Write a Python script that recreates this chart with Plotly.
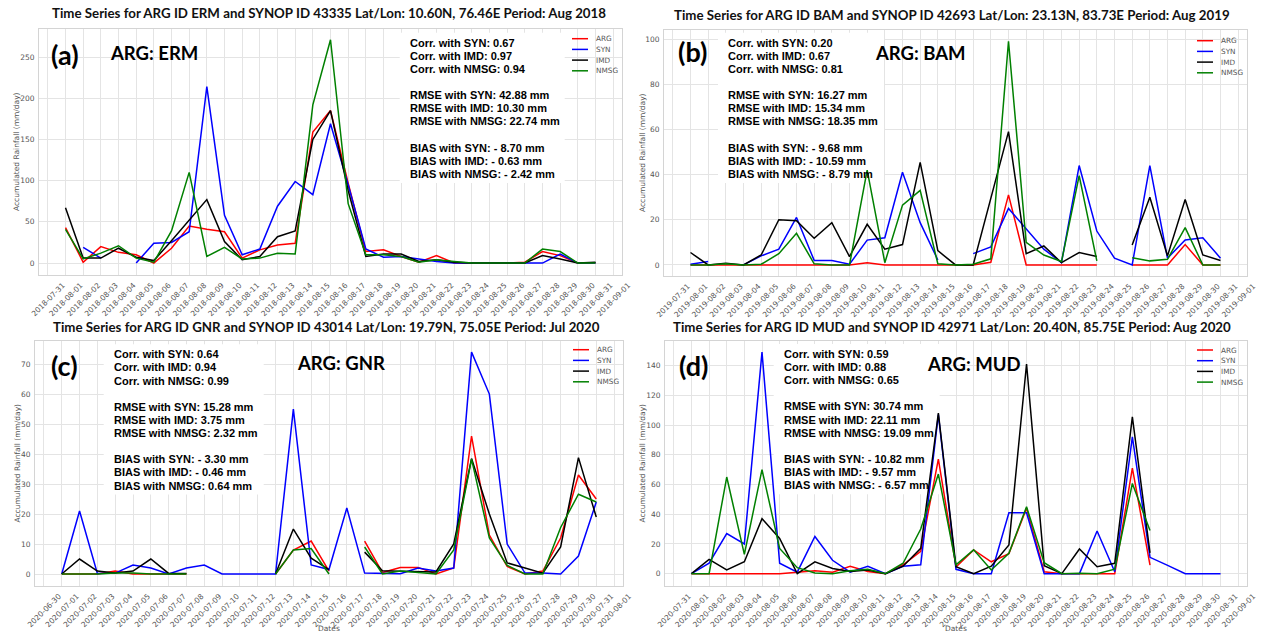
import plotly.graph_objects as go
import pandas as pd

W, H = 1263, 637

# ---------------- data ----------------
dates_a = pd.date_range('2018-08-01', '2018-08-31').strftime('%Y-%m-%d').tolist()
dates_b = pd.date_range('2019-08-01', '2019-08-31').strftime('%Y-%m-%d').tolist()
dates_c = pd.date_range('2020-07-01', '2020-07-31').strftime('%Y-%m-%d').tolist()
dates_d = pd.date_range('2020-08-01', '2020-08-31').strftime('%Y-%m-%d').tolist()

N = None
arg_a = [43, 1, 20, 13, 10, 0, 18, 45, 41, 38, 6, 16, 22, 24, 159, 185, 97, 14, 16, 8, 1, 9, 0, 0, 0, 0, 1, 14, 9, 0, 0]
syn_a = [N, 19, 6, N, 0, 24, 25, 38, 214, 58, 10, 17, 69, 99, 83, 169, 95, 17, 7, 8, 5, 2, 0, 0, 0, 0, 0, 0, 11, 0, 0]
imd_a = [67, 6, 6, 18, 7, 3, 27, 52, 77, 26, 4, 8, 32, 39, 150, 185, 88, 8, 11, 11, 2, 4, 1, 0, 0, 0, 0, 9, 5, 0, 1]
nmsg_a = [41, 5, 12, 21, 6, 1, 39, 110, 8, 19, 5, 6, 12, 11, 192, 271, 72, 10, 10, 8, 1, 4, 2, 0, 0, 0, 0, 17, 14, 0, 0]

arg_b = [0, 0, 0, 0, 0, 0, 0, 0, 0, 0, 1, 0, 0, 0, 0, 0, 0, 1.2, 31, 0, 0, 0, 0, 0, N, 0, 0, 0, 9, 0, 0]
syn_b = [0.3, 1.5, N, 0, 4, 7, 21, 2, 2, 0.3, 11, 12, 41, 18.7, 2.2, N, 5, 8, 25, 16, 7, 1, 44, 15, 3, 0, 44, 3, 11, 12, 3]
imd_b = [5.5, 0, 0.7, 0, 4.4, 20, 19.6, 11.8, 18.7, 3.7, 18, 7, 9, 45.4, 6.3, 0, 0, 29, 59, 5, 8.4, 1, 5.5, 3.7, N, 8.8, 30, 4, 29, 4.4, 2]
nmsg_b = [0, 0, 0.5, 0, 0.3, 5, 14, 0.5, 0, 0, 42, 1, 26.5, 33, 0.5, 0, 0.3, 2.7, 99, 10, 4.4, 1.5, 39.5, 1.8, N, 3.2, 1.8, 2.5, 16.5, 0, 0]

arg_c = [0, 0, 0, 1, 0, 0, 0, 0, N, N, N, N, 0, 8, 11, 1, N, 11, 0.5, 2.2, 2.2, 0, 2, 46, 13, 2.5, 0, 1, 12, 33, 25]
syn_c = [0, 21, 0.2, 0.3, 3, 2, 0, 2, 3, 0, 0, 0, 0, 55, 3, 1.5, 22, 0.3, 0.3, 0.1, 2, 1, 2, 74, 60, 10, 0.3, 0.3, 0, 6, 24]
imd_c = [0, 5, 1, 0.3, 1, 5, 0.2, 0.2, N, N, N, N, 0, 15, 5.3, 1.5, N, 7.3, 1.1, 0.9, 0.7, 0.7, 10, 38.5, 20, 3.7, 2, 0.3, 9, 38.8, 19]
nmsg_c = [0, 0, 0, 0.3, 0.3, 0, 0, 0, N, N, N, N, 0, 8, 8.5, 0, N, 9, 0, 1, 0.5, 0, 8, 38.3, 12, 2.9, 0, 0, 15.5, 26.6, 24]

arg_d = [0, 0, 0, 0, 0, 0, 1, 2, 1, 5, 1.5, 0, 6, 15, 77, 4.5, 16, 8, 13.5, 44, 1.3, 0, 0, 0, 0, 71, 5.8, N, N, N, N]
syn_d = [0, 7, 27, 20, 149, 7, 1, 25, 9, 1, 5, 0, 5, 6, 107, 2.9, 0, 0, 41, 41, 0, 0, 0, 28.7, 1.3, 92, 11, 5.6, 0, 0, 0]
imd_d = [0, 9.6, 2.5, 8, 37, 23.7, 0, 8, 3.5, 1.5, 2.5, 0, 5, 17, 108, 4.7, 0, 5, 19.3, 141, 5.4, 0, 16.6, 4.7, 7, 105.5, 14, N, N, N, N]
nmsg_d = [0, 0, 65, 13, 70, 17, 4, 0.5, 0, 2, 3, 0, 7, 30, 67, 6, 16, 2.5, 13.7, 45, 7.4, 0, 0.3, 0, 3, 60.7, 29, N, N, N, N]

series_names = ['ARG', 'SYN', 'IMD', 'NMSG']

titles = [
    'Time Series for ARG ID ERM and SYNOP ID 43335 Lat/Lon: 10.60N, 76.46E Period: Aug 2018',
    'Time Series for ARG ID BAM and SYNOP ID 42693 Lat/Lon: 23.13N, 83.73E Period: Aug 2019',
    'Time Series for ARG ID GNR and SYNOP ID 43014 Lat/Lon: 19.79N, 75.05E Period: Jul 2020',
    'Time Series for ARG ID MUD and SYNOP ID 42971 Lat/Lon: 20.40N, 85.75E Period: Aug 2020',
]
panel_tags = ['(a)', '(b)', '(c)', '(d)']
station_tags = ['ARG: ERM', 'ARG: BAM', 'ARG: GNR', 'ARG: MUD']
stats = [
    ['Corr. with SYN: 0.67', 'Corr. with IMD: 0.97', 'Corr. with NMSG: 0.94',
     'RMSE with SYN: 42.88 mm', 'RMSE with IMD: 10.30 mm', 'RMSE with NMSG: 22.74 mm',
     'BIAS with SYN: - 8.70 mm', 'BIAS with IMD: - 0.63 mm', 'BIAS with NMSG: - 2.42 mm'],
    ['Corr. with SYN: 0.20', 'Corr. with IMD: 0.67', 'Corr. with NMSG: 0.81',
     'RMSE with SYN: 16.27 mm', 'RMSE with IMD: 15.34 mm', 'RMSE with NMSG: 18.35 mm',
     'BIAS with SYN: - 9.68 mm', 'BIAS with IMD: - 10.59 mm', 'BIAS with NMSG: - 8.79 mm'],
    ['Corr. with SYN: 0.64', 'Corr. with IMD: 0.94', 'Corr. with NMSG: 0.99',
     'RMSE with SYN: 15.28 mm', 'RMSE with IMD: 3.75 mm', 'RMSE with NMSG: 2.32 mm',
     'BIAS with SYN: - 3.30 mm', 'BIAS with IMD: - 0.46 mm', 'BIAS with NMSG: 0.64 mm'],
    ['Corr. with SYN: 0.59', 'Corr. with IMD: 0.88', 'Corr. with NMSG: 0.65',
     'RMSE with SYN: 30.74 mm', 'RMSE with IMD: 22.11 mm', 'RMSE with NMSG: 19.09 mm',
     'BIAS with SYN: - 10.82 mm', 'BIAS with IMD: - 9.57 mm', 'BIAS with NMSG: - 6.57 mm'],
]
panel_dates = [dates_a, dates_b, dates_c, dates_d]
panel_series = [
    [arg_a, syn_a, imd_a, nmsg_a],
    [arg_b, syn_b, imd_b, nmsg_b],
    [arg_c, syn_c, imd_c, nmsg_c],
    [arg_d, syn_d, imd_d, nmsg_d],
]

# ---------------- style / layout ----------------
colors = ['#ff0000', '#0000ff', '#000000', '#008000']
# plot areas in pixels: left, right, top, bottom
boxes = [(39, 622, 29, 275), (664, 1247, 30, 276), (35, 623, 341, 586), (665, 1247, 341, 586)]
yranges = [(-14.5, 284), (-4.9, 104), (-4, 77.7), (-8.3, 156.5)]
ydticks = [50, 20, 10, 20]
title_pos = [(329, 13), (952, 15), (327, 327), (952, 327)]
tag_pos = [(49, 54), (676, 52), (49, 365), (677, 365)]
stn_pos = [(108, 53), (873, 53), (295, 363), (925, 364)]
stats_pos = [(407.7, 42.7), (726, 42.7), (111.7, 354.3), (781.7, 354)]
stats_w = [148, 149, 143, 149]
legend_pos = [(572, 38.7), (1197, 40.7), (573, 349.7), (1197, 350)]
ytitle_x = [16, 642, 17, 642]
show_dates = [False, False, True, True]

LINE_H = 13.12
TICKFONT = dict(family='DejaVu Sans', size=7.5, color='#555555')
GRID = '#e4e4e4'


def px(x):
    return x / W


def py(y):
    return 1 - y / H


fig = go.Figure()
annotations = []
shapes = []
layout = {}

for i in range(4):
    k = '' if i == 0 else str(i + 1)
    xa, ya = 'x' + k, 'y' + k
    l, r, t, b = boxes[i]
    dts = panel_dates[i]
    for name, col, vals in zip(series_names, colors, panel_series[i]):
        fig.add_trace(go.Scatter(x=dts, y=vals, mode='lines', name=name,
                                 line=dict(color=col, width=1.5),
                                 connectgaps=False, showlegend=False,
                                 xaxis=xa, yaxis=ya, hoverinfo='x+y+name'))
    d0 = pd.Timestamp(dts[0])
    d1 = pd.Timestamp(dts[-1])
    xr0 = d0 - pd.Timedelta(hours=36)
    xr1 = d1 + pd.Timedelta(hours=36)
    layout['xaxis' + k] = dict(
        domain=[px(l), px(r)], anchor=ya, type='date', automargin=False,
        range=[xr0.strftime('%Y-%m-%d %H:%M'), xr1.strftime('%Y-%m-%d %H:%M')],
        tick0=(d0 - pd.Timedelta(days=1)).strftime('%Y-%m-%d'), dtick=86400000,
        tickformat='%Y-%m-%d', tickangle=-45, tickfont=TICKFONT,
        showgrid=True, gridcolor=GRID, gridwidth=1, zeroline=False,
        showline=True, linecolor='#d4d4d4', linewidth=1, mirror=True,
        ticks='', ticklabelshift=15, ticklabelstandoff=2)
    y0r, y1r = yranges[i]
    layout['yaxis' + k] = dict(
        domain=[py(b), py(t)], anchor=xa, range=[y0r, y1r], automargin=False,
        tick0=0, dtick=ydticks[i], tickfont=TICKFONT,
        showgrid=True, gridcolor=GRID, gridwidth=1, zeroline=False,
        showline=True, linecolor='#d4d4d4', linewidth=1, mirror=True,
        ticks='', ticklabelstandoff=2)

    def to_xdata(pxv):
        f = (pxv - l) / (r - l)
        return (xr0 + (xr1 - xr0) * f).strftime('%Y-%m-%d %H:%M:%S')

    def to_ydata(pyv):
        f = (b - pyv) / (b - t)
        return y0r + (y1r - y0r) * f

    # title
    annotations.append(dict(text='<b>' + titles[i] + '</b>', xref='paper', yref='paper',
                            x=px(title_pos[i][0]), y=py(title_pos[i][1]),
                            xanchor='center', yanchor='middle', showarrow=False,
                            font=dict(family='Lato', size=13.3, color='#111111')))
    # panel tag and station tag
    annotations.append(dict(text='<b>' + panel_tags[i] + '</b>', xref='paper', yref='paper',
                            x=px(tag_pos[i][0]), y=py(tag_pos[i][1]),
                            xanchor='left', yanchor='middle', showarrow=False,
                            font=dict(family='Lato', size=27, color='#000000')))
    annotations.append(dict(text='<b>' + station_tags[i] + '</b>', xref='paper', yref='paper',
                            x=px(stn_pos[i][0]), y=py(stn_pos[i][1]),
                            xanchor='left', yanchor='middle', showarrow=False,
                            font=dict(family='Lato', size=18.5, color='#000000')))
    # y title
    annotations.append(dict(text='Accumulated Rainfall (mm/day)', xref='paper', yref='paper',
                            x=px(ytitle_x[i]), y=py((t + b) / 2), textangle=-90,
                            xanchor='center', yanchor='middle', showarrow=False,
                            font=dict(family='DejaVu Sans', size=7.5, color='#555555')))
    if show_dates[i]:
        annotations.append(dict(text='Dates', xref='paper', yref='paper',
                                x=px((l + r) / 2), y=py(628), xanchor='center', yanchor='middle',
                                showarrow=False,
                                font=dict(family='DejaVu Sans', size=7.5, color='#555555')))
    # stats box (white, above grid, below lines)
    sx, sy = stats_pos[i]
    bx0, bx1 = sx - 8, sx + stats_w[i] + 9
    by0, by1 = sy - 10, sy + 10 * LINE_H + 9
    shapes.append(dict(type='rect', xref=xa, yref=ya,
                       x0=to_xdata(bx0), x1=to_xdata(bx1),
                       y0=to_ydata(by1), y1=to_ydata(by0),
                       fillcolor='white', line=dict(width=0), layer='between'))
    rows = [0, 1, 2, 4, 5, 6, 8, 9, 10]
    for txt, row in zip(stats[i], rows):
        annotations.append(dict(text='<b>' + txt + '</b>', xref='paper', yref='paper',
                                x=px(sx), y=py(sy + row * LINE_H), xanchor='left', yanchor='middle',
                                showarrow=False,
                                font=dict(family='Liberation Sans', size=11, color='#000000')))
    # legend
    lx, ly = legend_pos[i]
    for j, (name, col) in enumerate(zip(series_names, colors)):
        yy = ly + j * 10.7
        shapes.append(dict(type='line', xref='paper', yref='paper',
                           x0=px(lx), x1=px(lx + 16), y0=py(yy), y1=py(yy),
                           line=dict(color=col, width=1.5), layer='above'))
        annotations.append(dict(text=name, xref='paper', yref='paper',
                                x=px(lx + 21.5), y=py(yy), xanchor='left', yanchor='middle',
                                showarrow=False,
                                font=dict(family='DejaVu Sans', size=7.3, color='#555555')))

fig.update_layout(
    width=W, height=H, margin=dict(l=0, r=0, t=0, b=0, autoexpand=False),
    paper_bgcolor='white', plot_bgcolor='white',
    annotations=annotations, shapes=shapes, showlegend=False,
    **layout)

fig.write_html('out.html')
